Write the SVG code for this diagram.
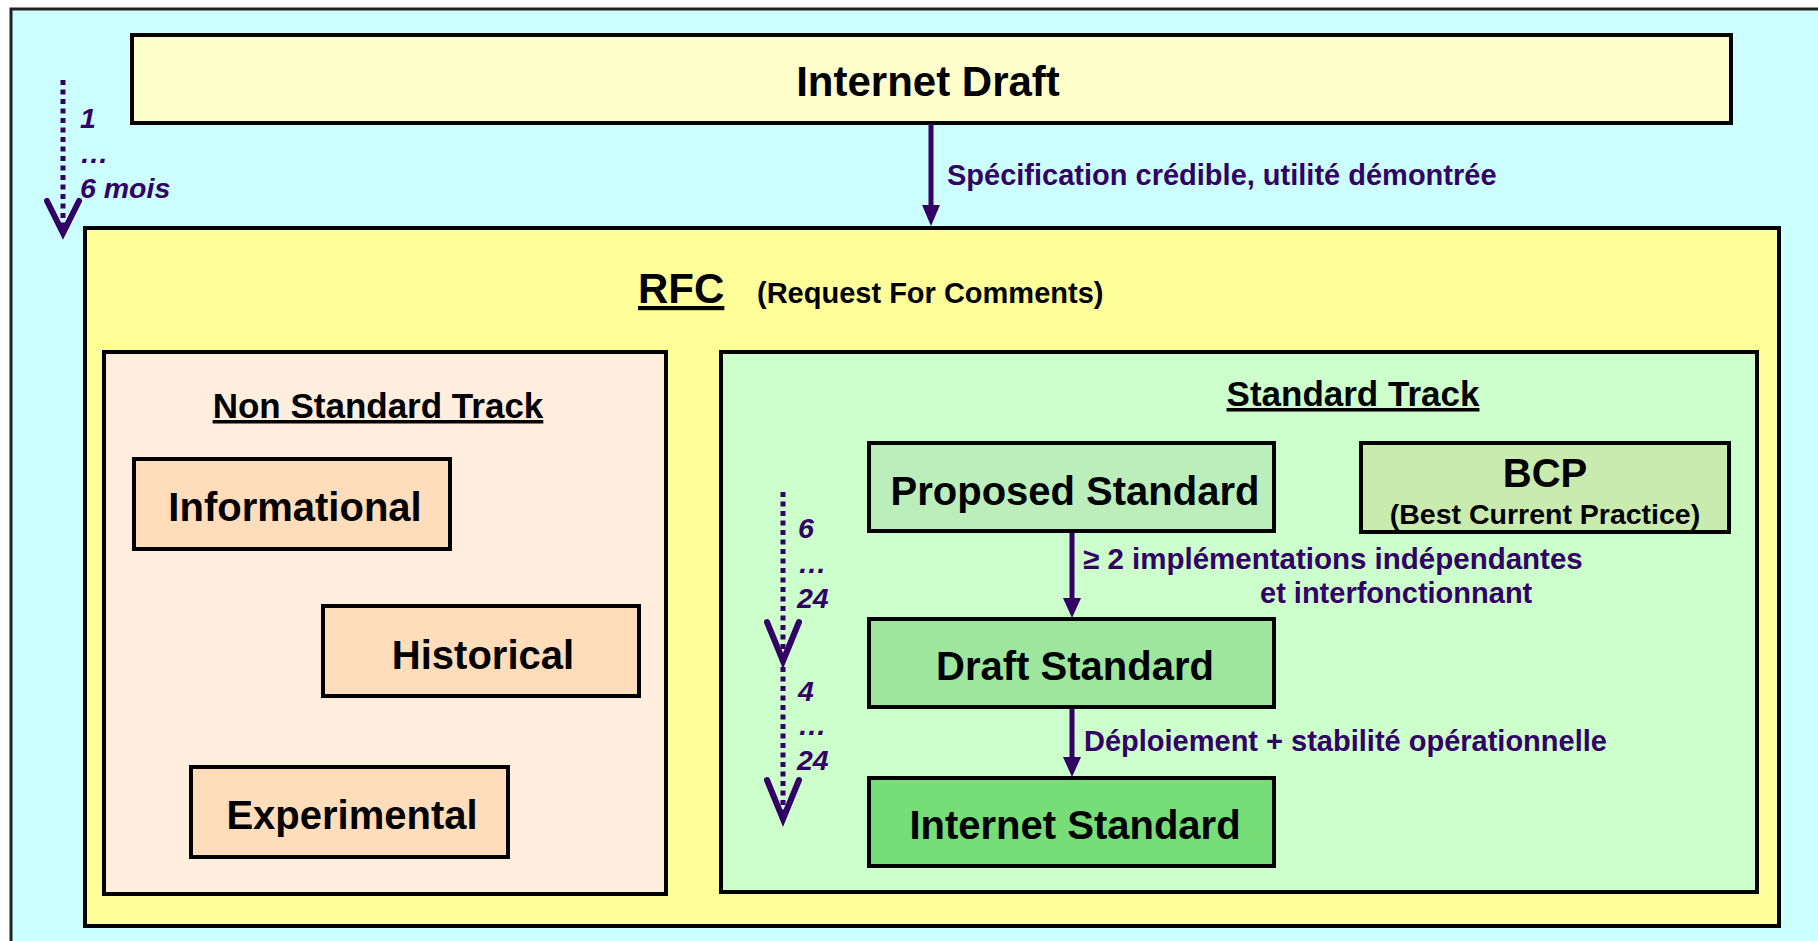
<svg xmlns="http://www.w3.org/2000/svg" width="1818" height="941" viewBox="0 0 1818 941">
<style>
text{font-family:"Liberation Sans",Arial,Helvetica,sans-serif;font-weight:bold}
.box{stroke:#000;stroke-width:4}
.lbl{font-size:40px;fill:#000;text-anchor:middle}
.title{font-size:35px;fill:#000;text-anchor:middle;text-decoration:underline}
.pl{font-size:29px;fill:#330066}
.num{font-size:28.5px;fill:#330066;font-style:italic}
.conn{stroke:#330066;stroke-width:5;fill:none}
.dot{stroke:#330066;stroke-width:5;fill:none;stroke-dasharray:5 4.5}
.chev{stroke:#330066;stroke-width:6;fill:none;stroke-linejoin:miter;stroke-linecap:round}
.head{fill:#330066}
</style>
<rect x="11" y="9" width="1820" height="940" fill="#CCFFFF" stroke="#222" stroke-width="3"/>

<g id="internet-draft">
<rect class="box" x="132" y="35" width="1599" height="88" fill="#FFFFCC"/>
<text class="lbl" x="928" y="96" style="font-size:42px">Internet Draft</text>
</g>

<g id="rfc">
<rect class="box" x="85" y="228" width="1694" height="698" fill="#FFFF99"/>
<text x="638" y="303" style="font-size:42px;text-decoration:underline">RFC</text>
<text x="757" y="303" style="font-size:29px">(Request For Comments)</text>
</g>

<g id="non-standard-track">
<rect class="box" x="104" y="352" width="562" height="542" fill="#FFEEDD"/>
<text class="title" x="378" y="418">Non Standard Track</text>
</g>

<g id="informational">
<rect class="box" x="134" y="459" width="316" height="90" fill="#FFDDBB"/>
<text class="lbl" x="295" y="521">Informational</text>
</g>

<g id="historical">
<rect class="box" x="323" y="606" width="316" height="90" fill="#FFDDBB"/>
<text class="lbl" x="483" y="669">Historical</text>
</g>

<g id="experimental">
<rect class="box" x="191" y="767" width="317" height="90" fill="#FFDDBB"/>
<text class="lbl" x="352" y="829">Experimental</text>
</g>

<g id="standard-track">
<rect class="box" x="721" y="352" width="1036" height="540" fill="#CCFFCC"/>
<text class="title" x="1353" y="406">Standard Track</text>
</g>

<g id="proposed-standard">
<rect class="box" x="869" y="443" width="405" height="88" fill="#BBEEBB"/>
<text class="lbl" x="1075" y="505">Proposed Standard</text>
</g>

<g id="bcp">
<rect class="box" x="1361" y="443" width="368" height="89" fill="#C9EBAD"/>
<text class="lbl" x="1545" y="487">BCP</text>
<text x="1545" y="524" style="font-size:28.5px;text-anchor:middle">(Best Current Practice)</text>
</g>

<g id="draft-standard">
<rect class="box" x="869" y="619" width="405" height="88" fill="#9EE69E"/>
<text class="lbl" x="1075" y="680">Draft Standard</text>
</g>

<g id="internet-standard">
<rect class="box" x="869" y="778" width="405" height="88" fill="#77DD77"/>
<text class="lbl" x="1075" y="839">Internet Standard</text>
</g>

<g id="connectors">
<line class="conn" x1="931" y1="124" x2="931" y2="208"/>
<polygon class="head" points="922,205 940,205 931,226"/>
<text class="pl" x="947" y="185">Spécification crédible, utilité démontrée</text>

<line class="conn" x1="1072" y1="533" x2="1072" y2="600"/>
<polygon class="head" points="1063,598 1081,598 1072,618"/>
<text class="pl" x="1083" y="569" style="font-size:29.5px">≥ 2 implémentations indépendantes</text>
<text class="pl" x="1260" y="603">et interfonctionnant</text>

<line class="conn" x1="1072" y1="709" x2="1072" y2="759"/>
<polygon class="head" points="1063,757 1081,757 1072,777"/>
<text class="pl" x="1084" y="751">Déploiement + stabilité opérationnelle</text>

<line class="dot" x1="63" y1="80" x2="63" y2="230"/>
<polyline class="chev" points="47,201 63,233 79,201"/>
<text class="num" x="80" y="128">1</text>
<text class="num" x="80" y="163">…</text>
<text class="num" x="80" y="198">6 mois</text>

<line class="dot" x1="783" y1="492" x2="783" y2="660"/>
<polyline class="chev" points="767,622 783,661 799,622"/>
<line class="dot" x1="783" y1="667" x2="783" y2="817"/>
<polyline class="chev" points="767,780 783,819 799,780"/>
<text class="num" x="798" y="538">6</text>
<text class="num" x="798" y="573">…</text>
<text class="num" x="797" y="608">24</text>
<text class="num" x="798" y="701">4</text>
<text class="num" x="798" y="735">…</text>
<text class="num" x="797" y="770">24</text>
</g>
</svg>
